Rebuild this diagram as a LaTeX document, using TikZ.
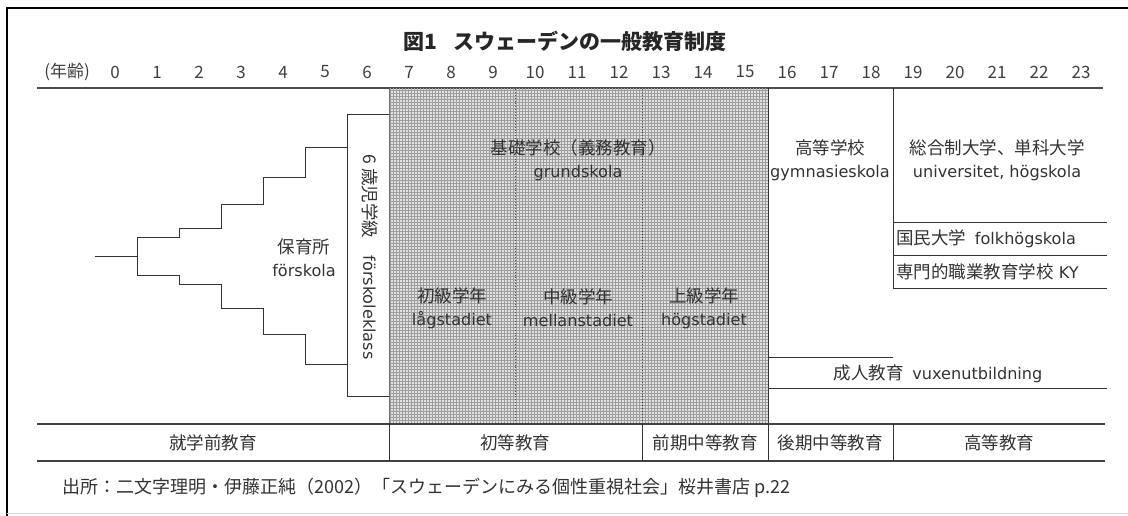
\documentclass[tikz,border=0pt]{standalone}
\usepackage{fontspec}
\setmainfont{Noto Sans CJK JP}
\newfontfamily\lat{DejaVu Sans}[Scale=0.92]
\usetikzlibrary{patterns}
\begin{document}
\begin{tikzpicture}[x=1pt,y=-1pt,
  txt/.style={font=\fontsize{17.5pt}{23pt}\selectfont, text=black!80, inner sep=0pt, align=center},
  agetxt/.style={font=\fontsize{17pt}{20pt}\selectfont, text=black!75, inner sep=0pt},
  ln/.style={line width=1pt, draw=black!80},
  heavy/.style={line width=1.8pt, draw=black!70},
  band/.style={line width=1.4pt, draw=black!75},
  divider/.style={line width=0.9pt, draw=black!70, dotted}]
\useasboundingbox (0,0) rectangle (1128,516);
\fill[white] (0,0) rectangle (1128,516);
% frame
\draw[line width=2pt, black] (6,8) -- (1128,8);
\draw[line width=2pt, black] (7,8) -- (7,516);
\draw[line width=0.8pt, black!15] (7,513) -- (1128,513);
% title
\node[font=\fontsize{21pt}{24pt}\selectfont\bfseries, text=black!85, inner sep=0pt] (title) at (565,41) {図1\hspace{0.8em}スウェーデンの一般教育制度};
% ages
\node[agetxt] (agelbl) at (67,72) {(年齢)};
\foreach \n in {0,...,23} {\node[agetxt] (age\n) at ({115+42*\n},72) {\n};}
\draw[heavy] (37,88) coordinate (al) -- (1103,88) coordinate (ar);
% shaded grundskola
\fill[black!12] (389,89) rectangle (768,424);
\fill[pattern=grid, pattern color=black!38] (389,89) rectangle (768,424);
\draw[divider] (515,89) -- (515,424);
\draw[divider] (642,89) -- (642,424);
\draw[line width=0.6pt, black!55] (389,89) -- (389,424);
% preschool staircase
\draw[ln] (95,256) -- (137,256);
\draw[ln] (347,148) -- (305,148) -- (305,178) -- (263,178) -- (263,205) -- (221,205)
  -- (221,228) -- (179,228) -- (179,237) -- (137,237) -- (137,275) -- (179,275)
  -- (179,284) -- (221,284) -- (221,308) -- (263,308) -- (263,334) -- (305,334)
  -- (305,364) -- (347,364);
% forskoleklass box
\draw[ln] (389,115) -- (347,115) -- (347,396) -- (389,396);
\node[txt, rotate=-90] (fk) at (370,257) {6 歳児学級\hspace{1em}{\lat förskoleklass}};
\node[txt] (fs) at (304,258) {保育所\\{\lat förskola}};
% grundskola texts
\node[txt] (gs) at (578,160) {基礎学校（義務教育）\\{\lat grundskola}};
\node[txt] (lag) at (452,308) {初級学年\\{\lat lågstadiet}};
\node[txt] (mel) at (578,308) {中級学年\\{\lat mellanstadiet}};
\node[txt] (hog) at (704,308) {上級学年\\{\lat högstadiet}};
% upper secondary & higher
\draw[ln] (768,88) -- (768,424);
\draw[ln] (768,357) -- (893,357);
\draw[ln] (893,88) -- (893,288);
\draw[ln] (893,222) -- (1107,222);
\draw[ln] (893,255) -- (1107,255);
\draw[ln] (893,288) -- (1107,288);
\draw[ln] (768,388) -- (1107,388);
\node[txt] (gym) at (830,160) {高等学校\\{\lat gymnasieskola}};
\node[txt] (uni) at (997,160) {総合制大学、単科大学\\{\lat universitet, högskola}};
\node[txt, anchor=west] (folk) at (896,239) {国民大学\hspace{0.5em}{\lat folkhögskola}};
\node[txt, anchor=west] (ky) at (896,272) {専門的職業教育学校\hspace{0.3em}{\lat KY}};
\node[txt] (vux) at (938,374) {成人教育\hspace{0.5em}{\lat vuxenutbildning}};
% bottom band
\draw[band] (37,424) -- (1105,424);
\draw[band] (37,461) -- (1105,461);
\foreach \x in {389,642,768,893} {\draw[ln] (\x,424) -- (\x,461);}
\node[txt] (b1) at (213,443) {就学前教育};
\node[txt] (b2) at (515,443) {初等教育};
\node[txt] (b3) at (705,443) {前期中等教育};
\node[txt] (b4) at (830,443) {後期中等教育};
\node[txt] (b5) at (999,443) {高等教育};
% source
\node[font=\fontsize{18pt}{20pt}\selectfont, text=black!80, inner sep=0pt, anchor=west] (src) at (62,488) {出所：二文字理明・伊藤正純（2002）「スウェーデンにみる個性重視社会」桜井書店 p.22};
\end{tikzpicture}
\end{document}
